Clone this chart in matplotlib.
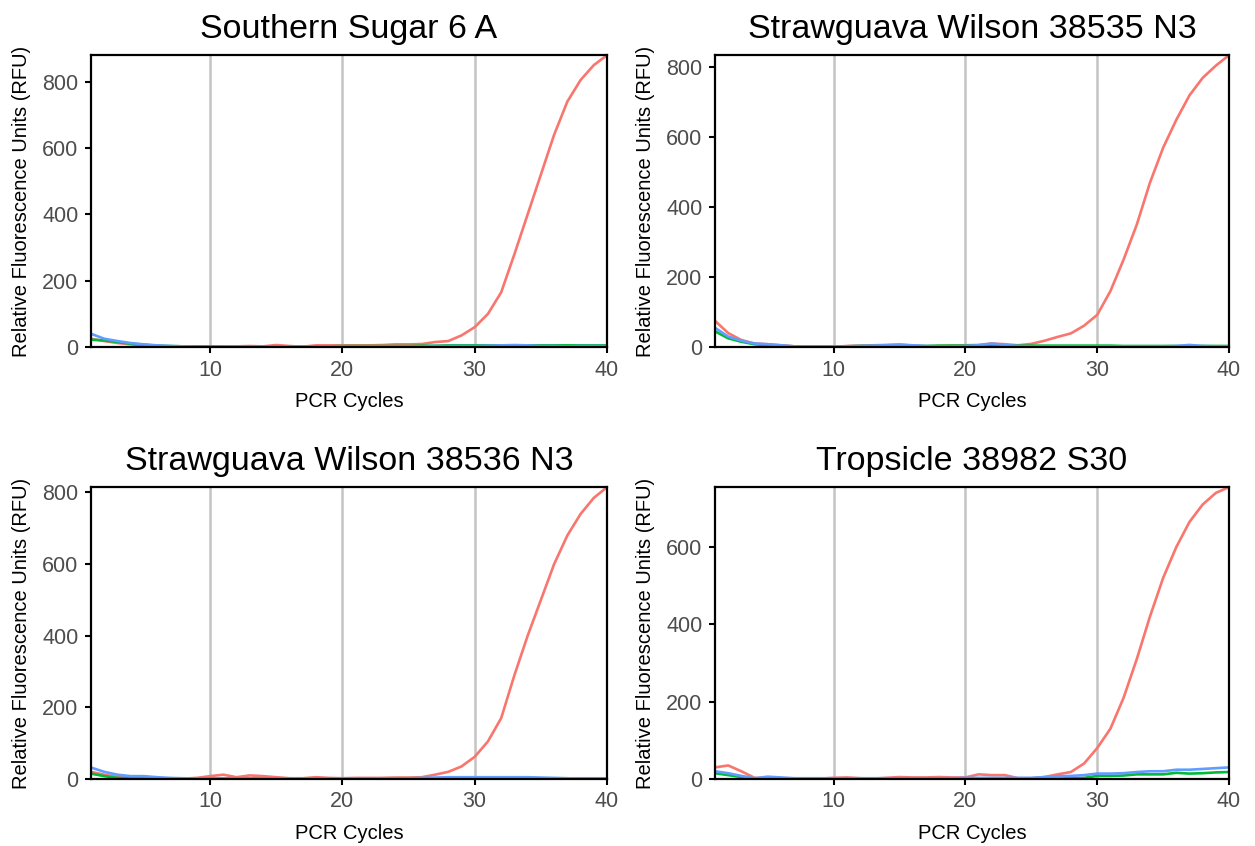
import numpy as np
import matplotlib.pyplot as plt

plt.rcParams['font.family'] = ['Liberation Sans', 'DejaVu Sans']

cycles = np.arange(1, 41)
titles = ['Southern Sugar 6 A', 'Strawguava Wilson 38535 N3',
          'Strawguava Wilson 38536 N3', 'Tropsicle 38982 S30']

# red / green / blue traces for each sample
red1 = [25, 18, 12, 8, 5, 3, 2, 1, 1, 0, 1, 2, 3, 2, 6, 3, 1, 5, 5, 5,
        5, 5, 6, 8, 8, 9, 15, 18, 35, 60, 100, 165, 280, 400, 520, 640, 740, 805, 850, 880]
green1 = [22, 20, 15, 10, 7, 4, 3, 2, 2, 2, 2, 2, 2, 2, 2, 2, 2, 2, 2, 3,
          3, 3, 3, 3, 3, 4, 4, 5, 5, 5, 5, 5, 5, 5, 5, 5, 5, 5, 5, 5]
blue1 = [40, 25, 18, 12, 8, 5, 3, 2, 1, 1, 2, 2, 2, 2, 2, 2, 2, 2, 2, 2,
         2, 2, 2, 2, 2, 2, 3, 3, 3, 3, 4, 5, 6, 5, 3, 3, 2, 3, 3, 3]

red2 = [75, 40, 20, 10, 8, 5, 2, 0, 1, 0, 3, 4, 5, 6, 7, 4, 2, 3, 4, 5,
        6, 10, 8, 5, 9, 18, 29, 39, 61, 92, 160, 250, 350, 470, 570, 650, 720, 770, 805, 835]
green2 = [45, 25, 15, 8, 5, 3, 2, 1, 1, 1, 2, 3, 3, 3, 3, 3, 3, 4, 4, 4,
          4, 4, 4, 4, 4, 4, 4, 4, 4, 4, 4, 3, 3, 3, 3, 3, 3, 3, 3, 3]
blue2 = [55, 30, 18, 10, 8, 5, 2, 1, 1, 1, 2, 3, 4, 5, 7, 5, 3, 2, 2, 3,
         5, 10, 6, 3, 2, 2, 2, 2, 2, 2, 2, 2, 2, 2, 2, 3, 6, 3, 2, 2]

red3 = [20, 12, 6, 4, 3, 2, 1, 1, 3, 8, 12, 5, 10, 8, 5, 2, 2, 5, 3, 2,
        3, 3, 3, 4, 4, 5, 12, 20, 35, 62, 105, 170, 290, 400, 500, 600, 680, 740, 785, 815]
green3 = [15, 8, 3, 2, 1, 1, 1, 1, 1, 1, 1, 1, 1, 1, 1, 1, 1, 1, 1, 1,
          1, 1, 2, 2, 2, 2, 2, 2, 2, 2, 2, 2, 2, 2, 2, 2, 2, 1, 1, 1]
blue3 = [32, 20, 12, 8, 8, 5, 3, 2, 2, 2, 2, 2, 2, 2, 2, 2, 2, 2, 2, 2,
         2, 2, 2, 2, 2, 3, 4, 5, 5, 5, 5, 5, 5, 5, 4, 3, 2, 2, 2, 2]

red4 = [30, 35, 20, 3, 2, 2, 1, 1, 1, 3, 4, 2, 1, 3, 5, 4, 4, 5, 4, 4,
        12, 10, 10, 2, 2, 5, 12, 18, 40, 80, 130, 210, 310, 420, 520, 600, 665, 710, 740, 755]
green4 = [15, 10, 5, 1, 1, 1, 1, 1, 1, 1, 1, 1, 1, 1, 1, 1, 1, 1, 1, 1,
          1, 1, 1, 1, 1, 1, 1, 2, 3, 8, 8, 9, 12, 12, 12, 16, 14, 15, 17, 18]
blue4 = [20, 15, 8, 2, 6, 4, 2, 2, 2, 2, 2, 2, 2, 2, 2, 2, 2, 2, 2, 3,
         3, 3, 3, 3, 3, 5, 7, 8, 10, 14, 14, 15, 18, 20, 20, 24, 24, 26, 28, 30]

series = [(red1, green1, blue1), (red2, green2, blue2),
          (red3, green3, blue3), (red4, green4, blue4)]
colors = ['#F8766D', '#00BA38', '#619CFF']

fig = plt.figure(figsize=(12.55, 8.46), dpi=100)
boxes = [(0.0725, 0.5898, 0.4112, 0.345), (0.5697, 0.5898, 0.4096, 0.345),
         (0.0725, 0.0792, 0.4112, 0.345), (0.5697, 0.0792, 0.4096, 0.345)]

for box, title, traces in zip(boxes, titles, series):
    ax = fig.add_axes(box)
    for vals, c in zip(traces, colors):
        ax.plot(cycles, vals, color=c, lw=1.9, solid_joinstyle='round')
    ax.set_xlim(1, 40)
    ax.set_ylim(0, max(traces[0]))
    ax.set_xticks([10, 20, 30, 40])
    ax.set_yticks(np.arange(0, max(traces[0]) + 1, 200))
    ax.grid(axis='x', color='#C4C4C4', lw=1.8)
    ax.set_axisbelow(True)
    for s in ax.spines.values():
        s.set_linewidth(1.6)
        s.set_color('black')
        s.set_zorder(5)
    ax.tick_params(length=4, width=1.5, labelsize=15.5, labelcolor='#4D4D4D', pad=5)
    ax.set_title(title, fontsize=24.5, pad=12)
    ax.set_xlabel('PCR Cycles', fontsize=14.5, labelpad=8)
    ax.set_ylabel('Relative Fluorescence Units (RFU)', fontsize=14.5, labelpad=8)

fig.savefig('out.png', dpi=100)
